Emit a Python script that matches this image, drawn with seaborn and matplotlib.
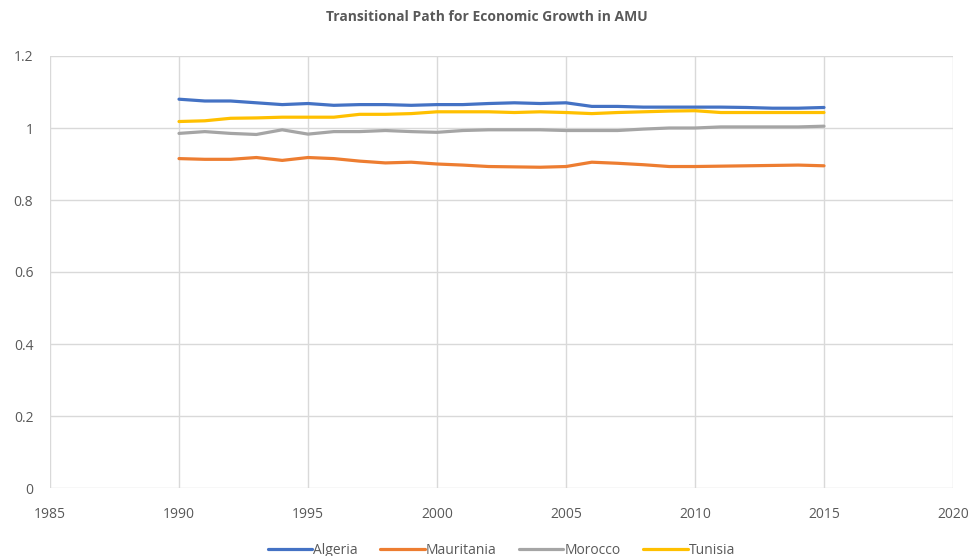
import matplotlib
matplotlib.use("Agg")
import matplotlib.pyplot as plt
import numpy as np
import pandas as pd
import seaborn as sns

years = list(range(1990, 2016))
algeria = [1.080, 1.075, 1.075, 1.070, 1.065, 1.068, 1.063, 1.065, 1.065, 1.063,
           1.065, 1.065, 1.068, 1.070, 1.068, 1.070, 1.060, 1.060, 1.058, 1.058,
           1.058, 1.058, 1.057, 1.055, 1.055, 1.057]
mauritania = [0.915, 0.913, 0.913, 0.918, 0.910, 0.918, 0.915, 0.908, 0.903, 0.905,
              0.900, 0.897, 0.893, 0.892, 0.891, 0.893, 0.905, 0.902, 0.898, 0.893,
              0.893, 0.894, 0.895, 0.896, 0.897, 0.895]
morocco = [0.985, 0.990, 0.985, 0.982, 0.995, 0.983, 0.990, 0.990, 0.993, 0.990,
           0.988, 0.993, 0.995, 0.995, 0.995, 0.993, 0.993, 0.993, 0.997, 1.000,
           1.000, 1.003, 1.003, 1.003, 1.003, 1.005]
tunisia = [1.018, 1.020, 1.027, 1.028, 1.030, 1.030, 1.030, 1.038, 1.038, 1.040,
           1.045, 1.045, 1.045, 1.043, 1.045, 1.043, 1.040, 1.043, 1.045, 1.047,
           1.048, 1.043, 1.043, 1.043, 1.043, 1.043]
countries = ["Algeria", "Mauritania", "Morocco", "Tunisia"]
colors = ["#4472C4", "#ED7D31", "#A5A5A5", "#FFC000"]

df = pd.DataFrame({"year": years, "Algeria": algeria, "Mauritania": mauritania,
                   "Morocco": morocco, "Tunisia": tunisia})
long = df.melt(id_vars="year", var_name="country", value_name="value")

sns.set_theme(style="white")
plt.rcParams["font.family"] = ["Open Sans", "DejaVu Sans"]

fig = plt.figure(figsize=(9.73, 5.56), dpi=100)
ax = fig.add_axes([50 / 973, 1 - 488 / 556, 903 / 973, 432 / 556])
sns.lineplot(long, x="year", y="value", hue="country", hue_order=countries,
             palette=colors, linewidth=2.3, ax=ax)

ax.set_xlim(1985, 2020)
ax.set_ylim(0, 1.2)
ax.set_xticks(np.arange(1985, 2021, 5))
ax.set_yticks(np.arange(0, 1.21, 0.2))
ax.set_yticklabels(["0", "0.2", "0.4", "0.6", "0.8", "1", "1.2"])
ax.grid(True, color="#D9D9D9", linewidth=1)
ax.set_axisbelow(True)
for s in ax.spines.values():
    s.set_visible(False)
ax.tick_params(axis="both", length=0, labelsize=10, colors="#595959", pad=14)
ax.tick_params(axis="y", pad=12)
ax.set_xlabel("")
ax.set_ylabel("")

fig.text(0.5, 1 - 17 / 556, "Transitional Path for Economic Growth in AMU",
         ha="center", va="center", fontsize=10, fontweight="bold", color="#595959")

handles, labels = ax.get_legend_handles_labels()
ax.legend(handles, labels, loc="lower center", bbox_to_anchor=(0.5, -0.19),
          ncol=4, frameon=False, fontsize=10, handlelength=3.2, handletextpad=0.1,
          columnspacing=1.6, labelcolor="#595959")

fig.savefig("out.png", dpi=100)
